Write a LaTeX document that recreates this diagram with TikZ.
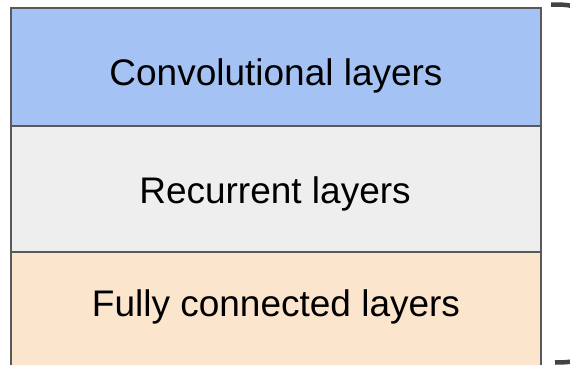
\documentclass[tikz,border=0pt]{standalone}
\usepackage{fontspec}
\setmainfont{Liberation Sans}
\definecolor{convfill}{HTML}{A4C2F4}
\definecolor{recfill}{HTML}{EEEEEE}
\definecolor{fcfill}{HTML}{FCE5CD}
\definecolor{edge}{HTML}{595959}
\definecolor{brace}{HTML}{434343}
\tikzset{
  layerbox/.style={draw=edge, line width=2pt, inner sep=0pt, outer sep=0pt},
  layerlabel/.style={anchor=base, inner sep=0pt, font=\fontsize{37}{44}\selectfont},
  bracestroke/.style={draw=brace, line width=4.5pt, line cap=butt}
}
\begin{document}
\begin{tikzpicture}[x=1pt, y=-1pt]
  \useasboundingbox (0,0) rectangle (570,364);
  \begin{scope}
    \clip (0,0) rectangle (570,364);
    % stacked layer blocks
    \path[layerbox, fill=fcfill] (11,252) rectangle (541,380);
    \path[layerbox, fill=recfill] (11,125.5) rectangle (541,252);
    \path[layerbox, fill=convfill] (11,8) rectangle (541,125.5);
    \node[layerlabel] (conv) at (276,85) {Convolutional layers};
    \node[layerlabel] (rec) at (275,203) {Recurrent layers};
    \node[layerlabel] (fc) at (276,316.5) {Fully connected layers};
    % ends of the grouping brace on the right
    \coordinate (btop) at (551,4.5);
    \coordinate (bbot) at (555,362.5);
    \draw[bracestroke] (btop) .. controls (562,4.5) and (567,4.8) .. (572,6);
    \draw[bracestroke] (bbot) .. controls (562,362.5) and (567,362.2) .. (572,361.5);
  \end{scope}
\end{tikzpicture}
\end{document}
